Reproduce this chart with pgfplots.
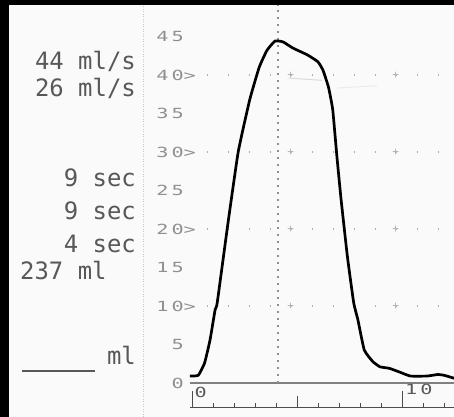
\documentclass[border=0pt]{standalone}
\usepackage{pgfplots}
\pgfplotsset{compat=1.18}
\usepackage{fontspec}
\setmainfont{DejaVu Sans Mono}
\newfontfamily\dotfont[FakeStretch=1.45,LetterSpace=22]{DejaVu Sans Mono}
\definecolor{txtgray}{HTML}{585858}
\definecolor{ticgray}{HTML}{909090}
\definecolor{dotgray}{HTML}{B0B0B0}
\definecolor{paper}{HTML}{FAFAFA}

% flow curve (time in s, flow in ml/s)
\pgfplotstableread{
t f
-0.10 0.9
0.30 1.0
0.60 2.6
0.86 5.6
1.10 9.5
1.20 10.4
1.70 20.5
2.20 30.0
2.75 36.8
3.20 41.0
3.57 43.2
3.95 44.4
4.33 44.3
4.80 43.5
5.50 42.6
6.00 41.7
6.24 40.6
6.50 38.4
6.70 35.5
6.90 29.4
7.10 23.8
7.40 16.4
7.70 10.4
7.90 8.2
8.20 4.3
8.60 2.8
8.95 2.1
9.40 1.9
9.90 1.4
10.40 0.9
11.20 0.9
11.70 1.1
12.00 1.0
12.50 0.6
}\flowdata

\begin{document}
\begin{tikzpicture}
\fill[black] (0,0) rectangle (454bp,417bp);
\fill[paper] (9bp,0) rectangle (454bp,412bp);
\draw[dotgray!70, line width=0.8bp, dash pattern=on 1bp off 1.5bp] (143bp,0) -- (143bp,412bp);

\begin{axis}[
  at={(189.9bp,10bp)}, anchor=south west,
  scale only axis, width=264.2bp, height=402.1bp,
  xmin=-0.1, xmax=12.48, ymin=-3.12, ymax=49.1,
  axis x line=bottom, axis y line=left,
  axis line style={-},
  x axis line style={draw=black!70, line width=0.9bp},
  y axis line style={draw=none},
  ytick={0,5,...,45},
  yticklabels={0,5,10\rlap{>},15,20\rlap{>},25,30\rlap{>},35,40\rlap{>},45},
  ytick style={draw=none},
  yticklabel style={font=\dotfont\fontsize{14}{14}\selectfont, text=ticgray, anchor=east, inner sep=0pt, xshift=-6bp},
  xtick={0,10}, xticklabels={},
  extra x ticks={5}, extra x tick labels={},
  minor xtick={1,2,3,4,6,7,8,9,11,12},
  tick align=inside,
  major tick length=15.6bp, minor tick length=4bp,
  extra x tick style={major tick length=11bp},
  xtick style={draw=black!70, line width=0.9bp},
  clip=false,
]
% baseline
\draw[black!50, line width=1.3bp] (axis cs:-0.1,0) -- (axis cs:12.48,0);
% dotted grid
\pgfplotsinvokeforeach{10,20,30,40}{
  \draw[dotgray, line width=1.6bp, dash pattern=on 1.6bp off 19.4bp] (axis cs:0.7,#1) -- (axis cs:12.4,#1);
  \node[text=dotgray, font=\fontsize{11}{11}\selectfont, inner sep=0pt] at (axis cs:4.7,#1) {+};
  \node[text=dotgray, font=\fontsize{11}{11}\selectfont, inner sep=0pt] at (axis cs:9.7,#1) {+};
}
\draw[ticgray, line width=1.3bp, dash pattern=on 1.5bp off 5.5bp] (axis cs:4.1,0) -- (axis cs:4.1,49.1);
% faint scan lines
\draw[black!14, line width=1bp] (axis cs:4.6,39.6) -- (axis cs:6.2,39.3);
\draw[black!8, line width=1bp] (axis cs:6.9,38.3) -- (axis cs:8.8,38.6);

\addplot[black, line width=2.7bp, line join=round, smooth, tension=0.25] table[x=t, y=f] {\flowdata};

\node[text=black!65, font=\dotfont\fontsize{14}{14}\selectfont, inner sep=0pt] at (axis cs:0.42,-1.2) {0};
\node[text=black!65, font=\dotfont\fontsize{14}{14}\selectfont, inner sep=0pt] at (axis cs:10.8,-0.8) {10};
\end{axis}

\begin{scope}[every node/.style={text=txtgray, inner sep=0pt, font=\fontsize{24}{24}\selectfont}]
\node[anchor=base east] at (136bp,347bp) {44 ml/s};
\node[anchor=base east] at (136bp,320bp) {26 ml/s};
\node[anchor=base east] at (136bp,230bp) {9 sec};
\node[anchor=base east] at (136bp,197bp) {9 sec};
\node[anchor=base east] at (136bp,164bp) {4 sec};
\node[anchor=base west] at (20bp,137bp) {237 ml};
\node[anchor=base east] at (136bp,52bp) {ml};
\end{scope}
\draw[txtgray, line width=1.4bp] (22bp,46bp) -- (95bp,46bp);

\pgfresetboundingbox
\path (0,0) rectangle (454bp,417bp);
\end{tikzpicture}
\end{document}
